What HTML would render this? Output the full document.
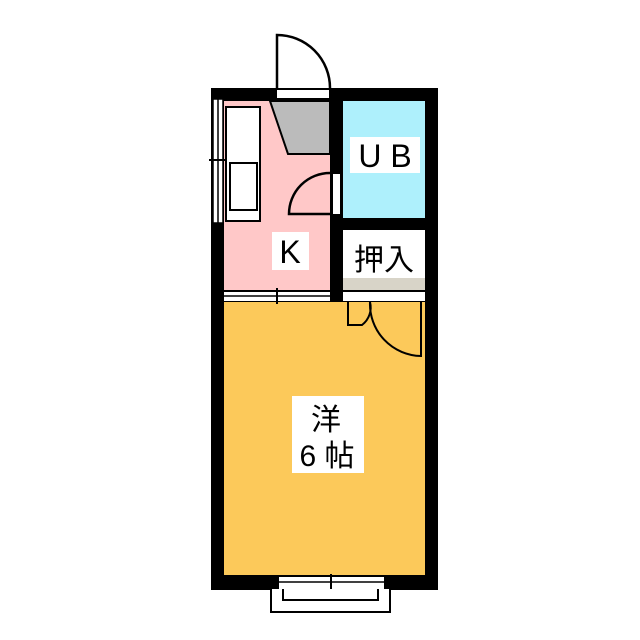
<!DOCTYPE html>
<html><head><meta charset="utf-8"><style>html,body{margin:0;padding:0;background:#fff;width:640px;height:640px;overflow:hidden}</style></head>
<body>
<svg width="640" height="640" viewBox="0 0 640 640" xmlns="http://www.w3.org/2000/svg">
<rect width="640" height="640" fill="#fff"/>
<rect x="224" y="101" width="106" height="190" fill="#ffc8c8"/>
<rect x="343" y="101" width="82" height="117" fill="#aef0fc"/>
<rect x="343" y="230" width="82" height="50" fill="#fff"/>
<rect x="343" y="278" width="82" height="13" fill="#d8d4c8"/>
<rect x="224" y="302" width="201" height="273" fill="#fcc95a"/>
<g fill="#000">
<rect x="211" y="88" width="227" height="13"/>
<rect x="211" y="575" width="227" height="15"/>
<rect x="211" y="88" width="13" height="502"/>
<rect x="425" y="88" width="13" height="502"/>
<rect x="330" y="88" width="13" height="214"/>
<rect x="343" y="218" width="82" height="12"/>
<rect x="211" y="290" width="227" height="12"/>
</g>
<rect x="277" y="90" width="52" height="8" fill="#fff"/>
<path d="M277,88 L277,35 A53,53 0 0 1 330,88" fill="#fff" stroke="#000" stroke-width="2.5"/>
<polygon points="270,101 330,101 330,154 288,154" fill="#bbb" stroke="#000" stroke-width="2"/>
<rect x="213" y="99" width="10" height="124" fill="#fff" stroke="#000" stroke-width="1.5"/>
<line x1="218" y1="99" x2="218" y2="223" stroke="#000" stroke-width="1.5"/>
<line x1="209" y1="160" x2="225" y2="160" stroke="#000" stroke-width="2"/>
<rect x="226" y="107" width="34" height="114" fill="#fff" stroke="#000" stroke-width="2"/>
<rect x="230" y="163" width="27" height="47" fill="#fff" stroke="#000" stroke-width="2"/>
<rect x="333" y="174" width="7" height="40" fill="#fff"/>
<path d="M330,173 A41,41 0 0 0 289,214 L330,214" fill="none" stroke="#000" stroke-width="2.5"/>
<rect x="224" y="292" width="106" height="9" fill="#fff"/>
<line x1="224" y1="296" x2="330" y2="296" stroke="#000" stroke-width="1.5"/>
<line x1="277" y1="288" x2="277" y2="304" stroke="#000" stroke-width="2"/>
<rect x="343" y="292" width="82" height="9" fill="#fff"/>
<path d="M348,302 L348,325 L362,325 A22,22 0 0 0 370,302" fill="none" stroke="#000" stroke-width="2"/>
<path d="M370,302 A52,52 0 0 0 421,356 L421,302" fill="none" stroke="#000" stroke-width="2"/>
<rect x="279" y="577" width="105" height="12" fill="#fff"/>
<line x1="279" y1="582" x2="384" y2="582" stroke="#000" stroke-width="1.5"/>
<line x1="331" y1="574" x2="331" y2="591" stroke="#000" stroke-width="2"/>
<path d="M271,589 L271,612 L390,612 L390,589" fill="#fff" stroke="#000" stroke-width="2"/>
<path d="M283,589 L283,600 L378,600 L378,589" fill="none" stroke="#000" stroke-width="2"/>
<rect x="350" y="137" width="70" height="36" fill="#fff"/>
<rect x="272" y="232" width="37" height="38" fill="#fff"/>
<rect x="292" y="396" width="72" height="77" fill="#fff"/>
<g font-family="'Liberation Sans','Noto Sans CJK JP',sans-serif" fill="#000" text-anchor="middle">
<text x="385" y="167" font-size="32">U B</text>
<text x="290" y="263" font-size="32">K</text>
<text x="384" y="270" font-size="30">押入</text>
<text x="326" y="430" font-size="30">洋</text>
<text x="327" y="466" font-size="30">6 帖</text>
</g>
</svg>
</body></html>
